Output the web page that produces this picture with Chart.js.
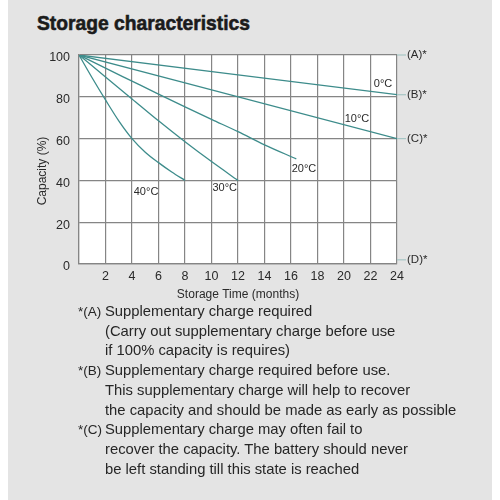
<!DOCTYPE html>
<html>
<head>
<meta charset="utf-8">
<script src="https://cdn.jsdelivr.net/npm/chart.js@4.4.1/dist/chart.umd.min.js"></script>
<style>
  html, body { margin: 0; padding: 0; background: #ffffff; }
  #page { position: absolute; left: 0; top: 0; width: 500px; height: 500px; overflow: hidden; }
  #panel { position: absolute; left: 8px; top: 0; width: 484px; height: 500px; background: #e4e4e4; }
  #title { position: absolute; left: 37px; top: 12px; font-family: "Liberation Sans", Arial, sans-serif; font-weight: bold; font-size: 21px; line-height: 21px; color: #1b1b1b; white-space: nowrap; transform-origin: 0 0; -webkit-text-stroke: 0.6px #1b1b1b; }
  #chart { position: absolute; left: 0; top: 0; }
  #notes { position: absolute; left: 78px; top: 302px; font-family: "Liberation Sans", Arial, sans-serif; font-size: 14.8px; line-height: 19.7px; color: #262626; }
  .note { position: relative; padding-left: 27px; white-space: pre; }
  .mark { position: absolute; left: 0; top: 0; font-size: 13.5px; }
</style>
</head>
<body>
<div id="page">
  <div id="panel"></div>
  <div id="title">Storage characteristics</div>
  <canvas id="chart" width="500" height="500"></canvas>
  <div id="notes"></div>
</div>
<script>
// ---- data ----
const seriesNames = ["0°C", "10°C", "20°C", "30°C", "40°C"];
const months0  = [0, 24];
const cap0     = [100, 81];
const months10 = [0, 24];
const cap10    = [100, 60];
const months20 = [0, 2, 4, 6, 8, 10, 12, 14, 16.4];
const cap20    = [100, 93.7, 87.5, 81.3, 75.2, 69.2, 63.3, 57, 50.3];
const months30 = [0, 2, 4, 6, 8, 10, 12];
const cap30    = [100, 89.5, 79, 68.5, 58.5, 49, 40];
const months40 = [0, 1, 2, 3, 4, 5, 6, 7, 8];
const cap40    = [100, 89, 78.5, 68.5, 60, 53.5, 48.5, 44, 40];

const markerNames  = ["(A)*", "(B)*", "(C)*", "(D)*"];
const markerLevels = [100, 81, 60, 2];

const yTicks = [0, 20, 40, 60, 80, 100];
const xTicks = [2, 4, 6, 8, 10, 12, 14, 16, 18, 20, 22, 24];

const noteMarks = ["*(A)", "*(B)", "*(C)"];
const noteTexts = [
  "Supplementary charge required\n(Carry out supplementary charge before use\nif 100% capacity is requires)",
  "Supplementary charge required before use.\nThis supplementary charge will help to recover\nthe capacity and should be made as early as possible",
  "Supplementary charge may often fail to\nrecover the capacity. The battery should never\nbe left standing till this state is reached"
];

// ---- layout (label anchor positions in axis units) ----
const seriesLabelAnchors = [
  { x: 22.95, y: 86.1 },
  { x: 20.98, y: 69.2 },
  { x: 16.98, y: 45.3 },
  { x: 11.0,  y: 36.2 },
  { x: 5.06,  y: 34.6 }
];

// condense the title to the reference's width
const titleEl = document.getElementById('title');
const tw = titleEl.getBoundingClientRect().width;
titleEl.style.transform = 'scaleX(' + (213 / tw) + ')';

const notesEl = document.getElementById('notes');
noteMarks.forEach((m, i) => {
  const d = document.createElement('div');
  d.className = 'note';
  const s = document.createElement('span');
  s.className = 'mark';
  s.textContent = m;
  d.appendChild(s);
  d.appendChild(document.createTextNode(noteTexts[i]));
  notesEl.appendChild(d);
});

const toPts = (xs, ys) => xs.map((x, i) => ({ x: x, y: ys[i] }));
const lineColor = '#3d8c8b';
const allSeries = [toPts(months0, cap0), toPts(months10, cap10), toPts(months20, cap20), toPts(months30, cap30), toPts(months40, cap40)];

const decor = {
  id: 'decor',
  beforeDraw(chart) {
    const { ctx, chartArea: a } = chart;
    ctx.save();
    ctx.fillStyle = '#ffffff';
    ctx.fillRect(a.left, a.top, a.right - a.left, a.bottom - a.top);
    ctx.restore();
  },
  afterDraw(chart) {
    const { ctx, chartArea: a, scales } = chart;
    const xs = scales.x, ys = scales.y;
    ctx.save();
    // y axis title
    ctx.translate(43, 171);
    ctx.rotate(-Math.PI / 2);
    ctx.font = '12px "Liberation Sans", Arial, sans-serif';
    ctx.fillStyle = '#2a2a2a';
    ctx.textAlign = 'center';
    ctx.textBaseline = 'middle';
    ctx.fillText('Capacity (%)', 0, 0);
    ctx.restore();

    ctx.save();
    ctx.font = '11.5px "Liberation Sans", Arial, sans-serif';
    ctx.textBaseline = 'middle';
    markerNames.forEach((n, i) => {
      const y = ys.getPixelForValue(markerLevels[i]);
      ctx.strokeStyle = '#a6c6c5';
      ctx.lineWidth = 1.2;
      ctx.beginPath();
      ctx.moveTo(a.right, y);
      ctx.lineTo(a.right + 9, y);
      ctx.stroke();
      ctx.fillStyle = '#2a2a2a';
      ctx.textAlign = 'left';
      ctx.fillText(n, a.right + 10, y);
    });
    ctx.font = '11px "Liberation Sans", Arial, sans-serif';
    ctx.textAlign = 'center';
    seriesNames.forEach((n, i) => {
      const p = seriesLabelAnchors[i];
      ctx.fillStyle = '#2a2a2a';
      ctx.fillText(n, xs.getPixelForValue(p.x), ys.getPixelForValue(p.y));
    });
    ctx.restore();
  }
};

new Chart(document.getElementById('chart'), {
  type: 'line',
  data: {
    datasets: allSeries.map((pts, i) => ({
      label: seriesNames[i],
      data: pts,
      borderColor: lineColor,
      borderWidth: 1.3,
      pointRadius: 0,
      tension: 0.4,
      cubicInterpolationMode: 'monotone',
      fill: false
    }))
  },
  options: {
    responsive: false,
    animation: false,
    events: [],
    layout: { padding: { top: 55, right: 103, bottom: 198, left: 0 } },
    plugins: { legend: { display: false }, tooltip: { enabled: false } },
    scales: {
      x: {
        type: 'linear',
        min: 0, max: 24,
        afterBuildTicks(scale) { scale.ticks = [0].concat(xTicks).map(v => ({ value: v })); },
        afterFit(scale) { scale.height = 38; },
        grid: { color: '#858585', lineWidth: 1.2, drawTicks: false },
        border: { color: '#858585', width: 1.2 },
        ticks: {
          padding: 5,
          color: '#2a2a2a',
          font: { family: '"Liberation Sans", Arial, sans-serif', size: 12.5 },
          callback: (v) => (xTicks.includes(v) ? String(v) : ''),
          maxRotation: 0, autoSkip: false
        },
        title: {
          display: true,
          text: 'Storage Time (months)',
          color: '#2a2a2a',
          font: { family: '"Liberation Sans", Arial, sans-serif', size: 12 },
          padding: { top: 1, bottom: 0 }
        }
      },
      y: {
        min: 0, max: 100,
        afterBuildTicks(scale) { scale.ticks = yTicks.map(v => ({ value: v })); },
        afterFit(scale) { scale.width = 79; },
        grid: { color: '#858585', lineWidth: 1.2, drawTicks: false },
        border: { color: '#858585', width: 1.2 },
        ticks: {
          padding: 9,
          labelOffset: 3,
          color: '#2a2a2a',
          font: { family: '"Liberation Sans", Arial, sans-serif', size: 12.5 }
        }
      }
    }
  },
  plugins: [decor]
});
</script>
</body>
</html>
